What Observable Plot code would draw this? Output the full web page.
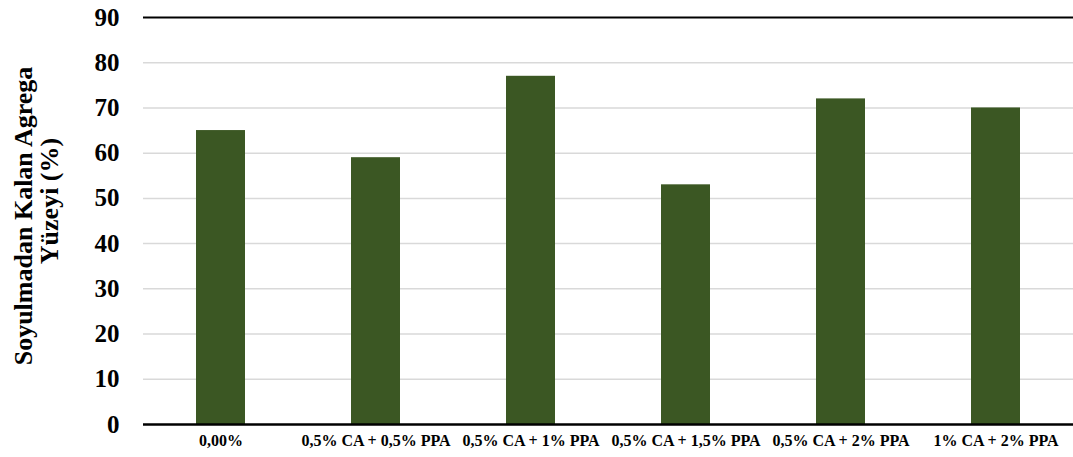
<!DOCTYPE html>
<html>
<head>
<meta charset="utf-8">
<script src="https://cdn.jsdelivr.net/npm/d3@7"></script>
<script src="https://cdn.jsdelivr.net/npm/@observablehq/plot@0.6"></script>
<style>
  html, body { margin: 0; padding: 0; background: #fff; }
  #chart svg { display: block; }
</style>
</head>
<body>
<div id="chart"></div>
<script>
const categories = ["0,00%", "0,5% CA + 0,5% PPA", "0,5% CA + 1% PPA", "0,5% CA + 1,5% PPA", "0,5% CA + 2% PPA", "1% CA + 2% PPA"];
const values = [65, 59, 77, 53, 72, 70];
const yTicks = [0, 10, 20, 30, 40, 50, 60, 70, 80, 90];
const gridTicks = [10, 20, 30, 40, 50, 60, 70, 80];
const yTitle = ["Soyulmadan Kalan Agrega", "Yüzeyi (%)"];

const data = categories.map((c, i) => ({category: c, value: values[i]}));

const chart = Plot.plot({
  width: 1073,
  height: 457,
  marginLeft: 143,
  marginRight: 0,
  marginTop: 17,
  marginBottom: 33,
  style: {fontFamily: "'Liberation Serif', 'Times New Roman', serif", fontWeight: "bold", background: "#fff", color: "#000"},
  x: {domain: categories, paddingInner: 0.685, paddingOuter: 0.3425, label: null},
  y: {domain: [0, 90], label: null},
  marks: [
    Plot.ruleY(gridTicks, {stroke: "#d9d9d9", strokeWidth: 1.5}),
    Plot.barY(data, {x: "category", y: "value", fill: "#3b5723"}),
    Plot.ruleY([0], {stroke: "#000", strokeWidth: 2.5}),
    Plot.ruleY([90], {stroke: "#000", strokeWidth: 2}),
    Plot.ruleX([0], {frameAnchor: "left", stroke: "#000", strokeWidth: 2}),
    Plot.axisY({ticks: yTicks, tickSize: 0, tickPadding: 24, fontSize: 25, fontWeight: "bold", label: null}),
    Plot.axisX({tickSize: 0, tickPadding: 10, fontSize: 16, fontWeight: "bold", label: null}),
    Plot.text([yTitle[0]], {frameAnchor: "left", dx: -120, dy: -5, rotate: -90, textAnchor: "middle", fontSize: 26, fontWeight: "bold", fill: "#000"}),
    Plot.text([yTitle[1]], {frameAnchor: "left", dx: -94, dy: -20, rotate: -90, textAnchor: "middle", fontSize: 26, fontWeight: "bold", fill: "#000"})
  ]
});
document.getElementById("chart").appendChild(chart);
</script>
</body>
</html>
